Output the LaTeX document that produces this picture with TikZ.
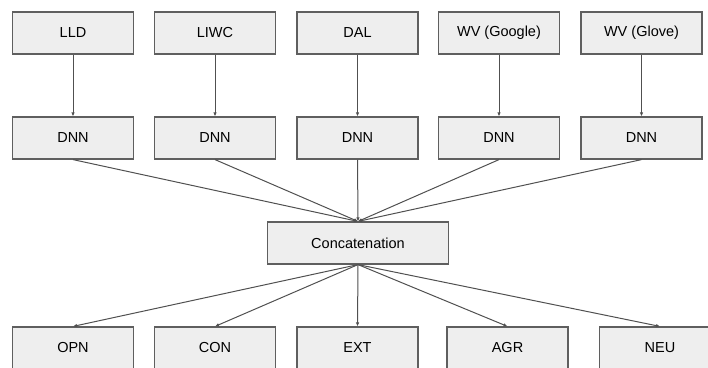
\documentclass[tikz,border=0pt]{standalone}
\usepackage{fontspec}
\setmainfont{Liberation Sans}
\usetikzlibrary{positioning,arrows.meta}
\definecolor{boxfill}{RGB}{238,238,238}
\definecolor{boxline}{RGB}{95,95,95}
\definecolor{arrowgray}{RGB}{80,80,80}

\tikzset{
  box/.style={draw=boxline, line width=1.2pt, fill=boxfill, minimum width=121pt, minimum height=42pt, font=\fontsize{14.5}{17}\selectfont},
  conn/.style={draw=arrowgray, line width=1pt, -{Latex[length=4pt,width=3.5pt]}}
}

\begin{document}
\begin{tikzpicture}[x=1pt,y=-1pt]
\clip (0,0) rectangle (708,367);

% Features
\node[box] (lld) at (73,33) {LLD};
\node[box] (liwc) at (215,33) {LIWC};
\node[box] (dal) at (357.5,33) {DAL};
\node[box] (wvgoogle) at (499,33) {WV (Google)};
\node[box] (wvglove) at (641.5,33) {WV (Glove)};

% Networks
\node[box] (dnnA) at (73,138) {DNN};
\node[box] (dnnB) at (215,138) {DNN};
\node[box] (dnnC) at (357.5,138) {DNN};
\node[box] (dnnD) at (499,138) {DNN};
\node[box] (dnnE) at (641.5,138) {DNN};

% Merge
\node[box, minimum width=181pt] (concat) at (358,243) {Concatenation};

% Traits
\node[box] (opn) at (73,348) {OPN};
\node[box] (con) at (215,348) {CON};
\node[box] (ext) at (357.5,348) {EXT};
\node[box] (agr) at (507.5,348) {AGR};
\node[box] (neu) at (660,348) {NEU};

% Arrows
\draw[conn] (lld) -- (dnnA);
\draw[conn] (liwc) -- (dnnB);
\draw[conn] (dal) -- (dnnC);
\draw[conn] (wvgoogle) -- (dnnD);
\draw[conn] (wvglove) -- (dnnE);

\draw[conn] (dnnA.south) -- (concat.north);
\draw[conn] (dnnB.south) -- (concat.north);
\draw[conn] (dnnC.south) -- (concat.north);
\draw[conn] (dnnD.south) -- (concat.north);
\draw[conn] (dnnE.south) -- (concat.north);

\draw[conn] (concat.south) -- (opn.north);
\draw[conn] (concat.south) -- (con.north);
\draw[conn] (concat.south) -- (ext.north);
\draw[conn] (concat.south) -- (agr.north);
\draw[conn] (concat.south) -- (neu.north);
\end{tikzpicture}
\end{document}
